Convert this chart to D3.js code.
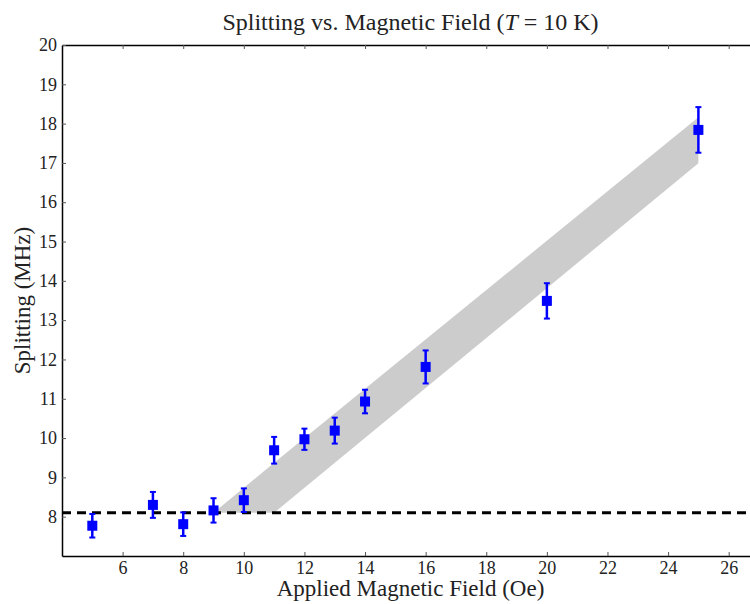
<!DOCTYPE html>
<html>
<head>
<meta charset="utf-8">
<script src="https://cdn.jsdelivr.net/npm/d3@7"></script>
<style>
  body { margin: 0; background: #fff; }
  svg { display: block; font-family: "Liberation Serif", "DejaVu Serif", serif; }
  .tick text { font-family: "Liberation Serif", serif; font-size: 18px; fill: #222; }
</style>
</head>
<body>
<div id="chart"></div>
<script>
// field (Oe), splitting (MHz), error (MHz)
var fields = [5, 7, 8, 9, 10, 11, 12, 13, 14, 16, 20, 25];
var splitting = [7.77, 8.30, 7.81, 8.16, 8.42, 9.69, 9.97, 10.19, 10.93, 11.81, 13.49, 17.84];
var errors = [0.30, 0.33, 0.30, 0.31, 0.30, 0.34, 0.27, 0.33, 0.30, 0.42, 0.45, 0.58];

// zero-field baseline and model band
var baseline = 8.1;
var bandX = [9, 11, 25];
var bandUpper = [8.1, 9.37, 18.16];
var bandLower = [8.1, 8.1, 16.99];

var xTicks = [6, 8, 10, 12, 14, 16, 18, 20, 22, 24, 26];
var yTicks = [8, 9, 10, 11, 12, 13, 14, 15, 16, 17, 18, 19, 20];

var width = 750, height = 604;
var margin = {top: 45, right: -9, bottom: 48, left: 62};
var innerW = width - margin.left - margin.right;
var innerH = height - margin.top - margin.bottom;

var svg = d3.select('#chart').append('svg')
  .attr('width', width)
  .attr('height', height);

var g = svg.append('g')
  .attr('transform', 'translate(' + margin.left + ',' + margin.top + ')');

var x = d3.scaleLinear().domain([4, 27]).range([0, innerW]);
var y = d3.scaleLinear().domain([7, 20]).range([innerH, 0]);

// shaded band
var area = d3.area()
  .x(function(d) { return x(d.x); })
  .y0(function(d) { return y(d.lo); })
  .y1(function(d) { return y(d.hi); });

var bandData = bandX.map(function(v, i) {
  return {x: v, lo: bandLower[i], hi: bandUpper[i]};
});

g.append('path')
  .datum(bandData)
  .attr('d', area)
  .attr('fill', '#cccccc');

// dashed baseline
g.append('line')
  .attr('x1', x(4)).attr('x2', x(27))
  .attr('y1', y(baseline)).attr('y2', y(baseline))
  .attr('stroke', '#000')
  .attr('stroke-width', 3)
  .attr('stroke-dasharray', '9,6');

// error bars + markers
var pts = g.append('g').selectAll('g.pt')
  .data(fields.map(function(f, i) { return {x: f, y: splitting[i], e: errors[i]}; }))
  .enter().append('g')
  .attr('class', 'pt');

pts.append('line')
  .attr('x1', function(d) { return x(d.x); })
  .attr('x2', function(d) { return x(d.x); })
  .attr('y1', function(d) { return y(d.y - d.e); })
  .attr('y2', function(d) { return y(d.y + d.e); })
  .attr('stroke', '#0000ff')
  .attr('stroke-width', 2.5);

[-1, 1].forEach(function(s) {
  pts.append('line')
    .attr('x1', function(d) { return x(d.x) - 3; })
    .attr('x2', function(d) { return x(d.x) + 3; })
    .attr('y1', function(d) { return y(d.y + s * d.e); })
    .attr('y2', function(d) { return y(d.y + s * d.e); })
    .attr('stroke', '#0000ff')
    .attr('stroke-width', 2);
});

pts.append('rect')
  .attr('x', function(d) { return x(d.x) - 5; })
  .attr('y', function(d) { return y(d.y) - 5; })
  .attr('width', 10)
  .attr('height', 10)
  .attr('fill', '#0000ff');

// axes, ticks pointing inward
var xAxis = g.append('g')
  .attr('transform', 'translate(0,' + innerH + ')')
  .call(d3.axisBottom(x).tickValues(xTicks).tickSizeInner(-4).tickSizeOuter(0).tickPadding(5));

var xTop = g.append('g')
  .call(d3.axisTop(x).tickValues(xTicks).tickSizeInner(-4).tickSizeOuter(0).tickFormat(''));

var yAxis = g.append('g')
  .call(d3.axisLeft(y).tickValues(yTicks).tickSizeInner(-4).tickSizeOuter(0).tickPadding(5));

[xAxis, xTop, yAxis].forEach(function(a) {
  a.attr('font-family', null).attr('font-size', null);
  a.select('.domain').attr('stroke', '#000').attr('stroke-width', 1.5);
  a.selectAll('.tick line').attr('stroke', '#555');
});

// title and labels
var title = svg.append('text')
  .attr('x', margin.left + x(15.5))
  .attr('y', 30)
  .attr('text-anchor', 'middle')
  .attr('font-size', 24)
  .attr('fill', '#222');
title.append('tspan').text('Splitting vs. Magnetic Field (');
title.append('tspan').attr('font-style', 'italic').text('T');
title.append('tspan').text(' = 10 K)');

svg.append('text')
  .attr('x', margin.left + x(15.5))
  .attr('y', 596)
  .attr('text-anchor', 'middle')
  .attr('font-size', 23)
  .attr('fill', '#222')
  .text('Applied Magnetic Field (Oe)');

svg.append('text')
  .attr('transform', 'translate(30,' + (margin.top + innerH / 2) + ') rotate(-90)')
  .attr('text-anchor', 'middle')
  .attr('font-size', 23)
  .attr('fill', '#222')
  .text('Splitting (MHz)');
</script>
</body>
</html>
